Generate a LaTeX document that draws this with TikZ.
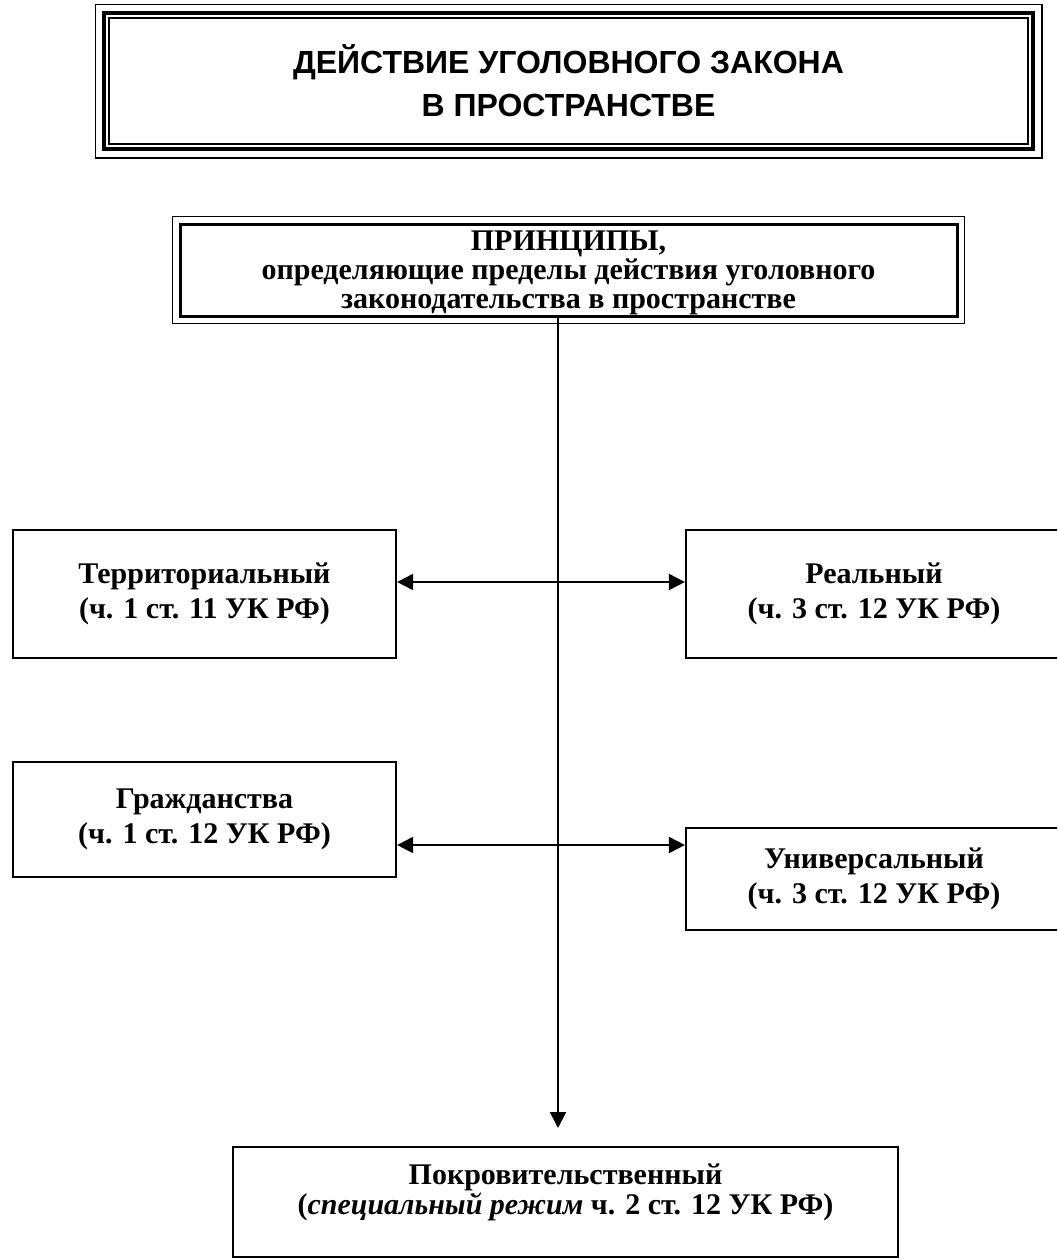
\documentclass[tikz,border=0pt]{standalone}
\usepackage{fontspec}
\setmainfont{Liberation Serif}
\setsansfont{Liberation Sans}
\usetikzlibrary{arrows.meta,positioning,calc}

\begin{document}
\begin{tikzpicture}[x=0.5pt,y=-0.5pt,
  box/.style={draw,line width=1.1pt,align=center,inner sep=0pt,
    font=\fontsize{15}{17.25}\selectfont\bfseries},
  boxtext/.style={align=center,inner sep=0pt,font=\fontsize{15}{15}\selectfont\bfseries},
  link/.style={line width=1pt,-{Triangle[length=8pt,width=8pt]}},
  twoway/.style={line width=1pt,{Triangle[length=8pt,width=8pt]}-{Triangle[length=8pt,width=8pt]}}]
\useasboundingbox (0,0) rectangle (1057,1259);
\clip (0,0) rectangle (1057,1259);
% header with a triple frame
\node[draw,line width=1.75pt,minimum width=464.5pt,minimum height=68pt,align=center,
  font=\sffamily\bfseries\fontsize{16}{21.5}\selectfont] (title) at (568.5,81)
  {ДЕЙСТВИЕ УГОЛОВНОГО ЗАКОНА\\В ПРОСТРАНСТВЕ};
\draw[line width=0.75pt] ($(title.north west)+(-7,-7)$) rectangle ($(title.south east)+(7,7)$);
\draw[line width=1.2pt] ($(title.north west)+(6.5,6.5)$) rectangle ($(title.south east)+(-6.5,-6.5)$);
% principles
\node[box,line width=1.5pt,minimum width=388.5pt,minimum height=46pt] (princ) at (568.5,270) {};
\draw[line width=0.75pt] ($(princ.north west)+(-6,-6)$) rectangle ($(princ.south east)+(6,6)$);
\node[boxtext,font=\fontsize{15}{14.5}\selectfont\bfseries] (princlbl) at (568.5,272.5)
  {ПРИНЦИПЫ,\\определяющие пределы действия уголовного\\законодательства в пространстве};
% the five principles
\node[box,minimum width=191.5pt,minimum height=64pt] (terr) at (204.5,594)
  {Территориальный\\(ч. 1 ст. 11 УК РФ)};
\node[box,minimum width=188pt,minimum height=64pt] (real) at (874,594)
  {Реальный\\(ч. 3 ст. 12 УК РФ)};
\node[box,minimum width=191.5pt,minimum height=57.5pt] (grazh) at (204.5,819.5)
  {Гражданства\\(ч. 1 ст. 12 УК РФ)};
\node[box,minimum width=188pt,minimum height=51pt] (univ) at (874,879)
  {Универсальный\\(ч. 3 ст. 12 УК РФ)};
\node[box,minimum width=332.5pt,minimum height=55pt] (prot) at (565.5,1202) {};
\node[boxtext] (protlbl) at (565.5,1192)
  {Покровительственный\\(\textit{специальный режим} ч. 2 ст. 12 УК РФ)};
% connectors
\coordinate (a1) at (558,582);
\coordinate (a2) at (558,845);
\coordinate (tip) at (558,1128);
\draw[twoway] (a1 -| terr.east) -- (a1 -| real.west);
\draw[twoway] (a2 -| grazh.east) -- (a2 -| univ.west);
\draw[link] (tip |- princ.south) -- (tip);
\end{tikzpicture}
\end{document}
